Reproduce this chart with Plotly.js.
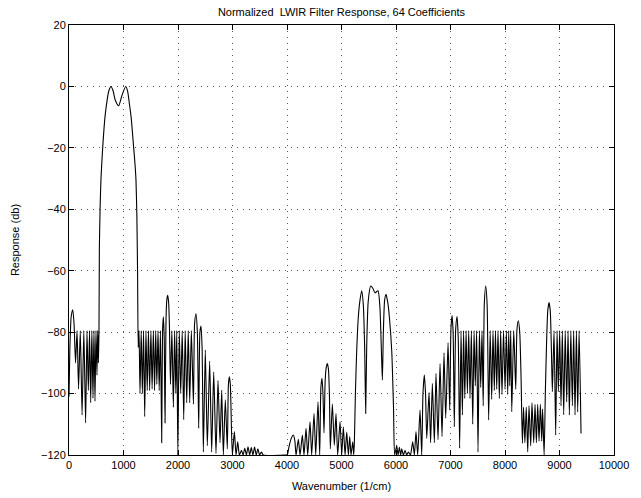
<!DOCTYPE html>
<html>
<head>
<meta charset="utf-8">
<script src="https://cdn.plot.ly/plotly-3.0.1.min.js"></script>
<style>html,body{margin:0;padding:0;background:#fff;}#chart{width:641px;height:498px;}</style>
</head>
<body>
<div id="chart"></div>
<script>
// Low stopband (0 - 550 1/cm)
const stopLowX = [0, 15, 40, 68, 92, 120, 148, 175, 207, 240, 272, 305, 330, 355, 377, 398, 419, 440, 458, 477, 495, 513, 527, 540, 550];
const stopLowY = [-101, -86, -75, -72.7, -77, -90, -79.5, -98.5, -79.5, -107, -79.5, -109.5, -79.5, -99, -79.5, -103, -79.5, -101.5, -79.5, -102.5, -79.5, -94, -79.5, -90, -79.5];
// LWIR passband
const passX = [557, 570, 587, 618, 660, 691, 730, 771, 810, 850, 911, 970, 1040, 1075, 1107, 1140, 1187, 1210, 1229, 1245, 1258, 1270];
const passY = [-53, -40, -30, -20, -10, -5.5, -1.5, 0, -1.5, -4.5, -6.3, -3, 0, -1.5, -5.5, -10, -20, -25, -30.5, -42, -60, -85];
// Stopband 1285 - 3126
const stopMidX = [1285, 1303, 1325, 1346, 1368, 1389, 1412, 1435, 1458, 1480, 1503, 1525, 1548, 1570, 1591, 1612, 1634, 1655, 1678, 1701, 1716, 1731, 1747, 1762, 1780, 1795, 1811, 1827, 1843, 1862, 1888, 1915, 1938, 1960, 1978, 1997, 2023, 2050, 2078, 2105, 2132, 2160, 2188, 2215, 2245, 2283, 2305, 2330, 2355, 2380, 2402, 2422, 2442, 2465, 2501, 2538, 2581, 2618, 2655, 2697, 2734, 2771, 2802, 2832, 2868, 2905, 2925, 2942, 2960, 2997, 3034, 3065, 3096, 3126];
const stopMidY = [-79.5, -100, -79.5, -100, -79.5, -107.5, -79.5, -99, -79.5, -99, -79.5, -98.5, -79.5, -99, -79.5, -97, -79.5, -99, -79.5, -116, -80, -75, -82, -109.6, -76, -69.5, -68, -70, -78, -97, -79.5, -104.5, -79.5, -100, -79.5, -120, -79.5, -100, -79.5, -108.5, -79.5, -103, -79.5, -103, -79.5, -103.5, -77, -74, -80, -111.3, -80, -78, -85, -119, -85.8, -117, -89.4, -119, -92.9, -119.5, -95.8, -116, -98.9, -120, -102, -118, -97, -94.5, -97, -120, -112.4, -120, -115.7, -120];
// Deep region 3165 - 3995
const deepX = [3165, 3195, 3225, 3255, 3285, 3315, 3345, 3375, 3405, 3435, 3465, 3497, 3530, 3565, 3995];
const deepY = [-118.5, -120, -117.8, -120, -117.3, -120, -117.6, -120, -117.4, -120, -118, -120, -119, -120, -120];
// Rising / falling lobes 4006 - 5224
const lobesX = [4006, 4040, 4080, 4117, 4145, 4166, 4208, 4239, 4282, 4312, 4349, 4380, 4422, 4453, 4496, 4527, 4569, 4600, 4622, 4642, 4660, 4679, 4700, 4720, 4740, 4760, 4778, 4795, 4832, 4868, 4899, 4930, 4973, 5004, 5034, 5065, 5096, 5126, 5151, 5175, 5206, 5224];
const lobesY = [-120, -117, -114.5, -113.5, -115.5, -120, -114.9, -120, -113.5, -120, -111.3, -120, -109.2, -120, -106.5, -120, -102.7, -120, -98, -95, -100, -112.8, -96, -91.5, -90.2, -92, -100, -118, -103.4, -116.8, -106.5, -120, -109.2, -120, -110.8, -120, -112.5, -120, -114, -120, -115.7, -120];
// Secondary passband leak 5236 - 5975
const leakX = [5236, 5255, 5279, 5309, 5340, 5371, 5400, 5425, 5444, 5462, 5490, 5535, 5575, 5615, 5670, 5705, 5732, 5750, 5768, 5792, 5817, 5850, 5878, 5921, 5955, 5975];
const leakY = [-116, -100, -86, -75, -69.5, -66.5, -71, -85, -106.5, -85, -70, -65, -65.7, -67.2, -66.5, -72, -86, -95.6, -80, -69.5, -67.7, -70.5, -75, -85.8, -105, -120];
// Stopband 6013 - 7700
const stopHighX = [6013, 6038, 6062, 6085, 6105, 6135, 6166, 6196, 6227, 6265, 6306, 6337, 6367, 6398, 6441, 6472, 6495, 6520, 6542, 6564, 6606, 6635, 6667, 6704, 6734, 6771, 6808, 6845, 6881, 6912, 6955, 6986, 7008, 7028, 7048, 7070, 7095, 7120, 7142, 7168, 7193, 7218, 7240, 7262, 7286, 7310, 7334, 7358, 7383, 7408, 7432, 7455, 7480, 7505, 7530, 7555, 7578, 7600, 7620, 7646, 7672, 7700];
const stopHighY = [-117, -120, -117.5, -120, -118, -120, -118.5, -120, -119, -120, -115.7, -120, -112.4, -120, -105.4, -120, -100, -94, -100, -114.6, -99.7, -116, -96.7, -116, -93.4, -115, -90.2, -114, -86.7, -108, -83.5, -105.4, -79, -74.6, -80, -110.8, -79, -74.9, -82, -117.8, -79.5, -107, -79.5, -101.6, -79.5, -100, -79.5, -101.6, -79.5, -110, -79.5, -97.5, -79.5, -119, -79.5, -98, -79.5, -104, -71, -65, -71, -108.6];
// Stopband 7728 - 9395
const stopEndX = [7728, 7756, 7780, 7804, 7825, 7848, 7872, 7896, 7920, 7945, 7973, 8001, 8025, 8050, 8068, 8087, 8105, 8124, 8160, 8197, 8220, 8245, 8270, 8295, 8319, 8340, 8365, 8390, 8417, 8440, 8472, 8495, 8527, 8551, 8576, 8600, 8625, 8649, 8674, 8690, 8718, 8740, 8765, 8785, 8808, 8830, 8852, 8869, 8900, 8930, 8955, 8979, 9003, 9028, 9052, 9077, 9105, 9132, 9157, 9181, 9208, 9236, 9260, 9285, 9310, 9334, 9360, 9395];
const stopEndY = [-79.5, -101.9, -79.5, -99, -79.5, -98.6, -79.5, -101.6, -79.5, -100.3, -79.5, -98.6, -79.5, -100.3, -79.5, -97.5, -79.5, -105.9, -79.5, -98.6, -79, -76.3, -80, -95, -116.2, -104.5, -116, -104.5, -119, -104, -117, -103, -116, -103.5, -116, -103.5, -115.5, -103.5, -115.5, -105, -120, -100, -82, -73, -70.4, -73, -86, -99.4, -79.5, -113.5, -79.5, -99.4, -79.5, -104, -79.5, -106.9, -79.5, -102.7, -79.5, -107, -79.5, -104, -79.5, -107, -79.5, -106, -79.5, -113];

const xTicks = [0, 1000, 2000, 3000, 4000, 5000, 6000, 7000, 8000, 9000, 10000];
const yTicks = [-120, -100, -80, -60, -40, -20, 0, 20];

const waveNumber = [].concat(stopLowX, passX, stopMidX, deepX, lobesX, leakX, stopHighX, stopEndX);
const responseDb = [].concat(stopLowY, passY, stopMidY, deepY, lobesY, leakY, stopHighY, stopEndY);

const font = {family: 'Liberation Sans, Arial, Helvetica, sans-serif', size: 11, color: '#000'};

const axisCommon = {
  showline: true, linecolor: '#000', linewidth: 1, mirror: 'allticks',
  ticks: 'inside', ticklen: 5, tickcolor: '#000', tickwidth: 1,
  showgrid: true, gridcolor: '#555', gridwidth: 1, griddash: '1px,5px',
  zeroline: false, tickfont: font
};

Plotly.newPlot('chart', [{
  x: waveNumber, y: responseDb, type: 'scatter', mode: 'lines',
  line: {color: '#000', width: 1.1, shape: 'spline', smoothing: 0.6}, hoverinfo: 'skip'
}], {
  width: 641, height: 498,
  margin: {l: 69, r: 27, t: 25, b: 43},
  paper_bgcolor: '#fff', plot_bgcolor: '#fff',
  font: font,
  showlegend: false,
  title: {text: 'Normalized\u00a0 LWIR Filter Response, 64 Coefficients', font: font,
          x: 0.5, xref: 'paper', y: 0.976, yref: 'container', yanchor: 'middle'},
  xaxis: Object.assign({}, axisCommon, {
    range: [0, 10000], tickvals: xTicks, ticktext: xTicks.map(String),
    title: {text: 'Wavenumber (1/cm)', font: font, standoff: 12}
  }),
  yaxis: Object.assign({}, axisCommon, {
    range: [-120, 20], tickvals: yTicks,
    title: {text: 'Response (db)', font: font, standoff: 19}
  })
}, {staticPlot: true});
</script>
</body>
</html>
